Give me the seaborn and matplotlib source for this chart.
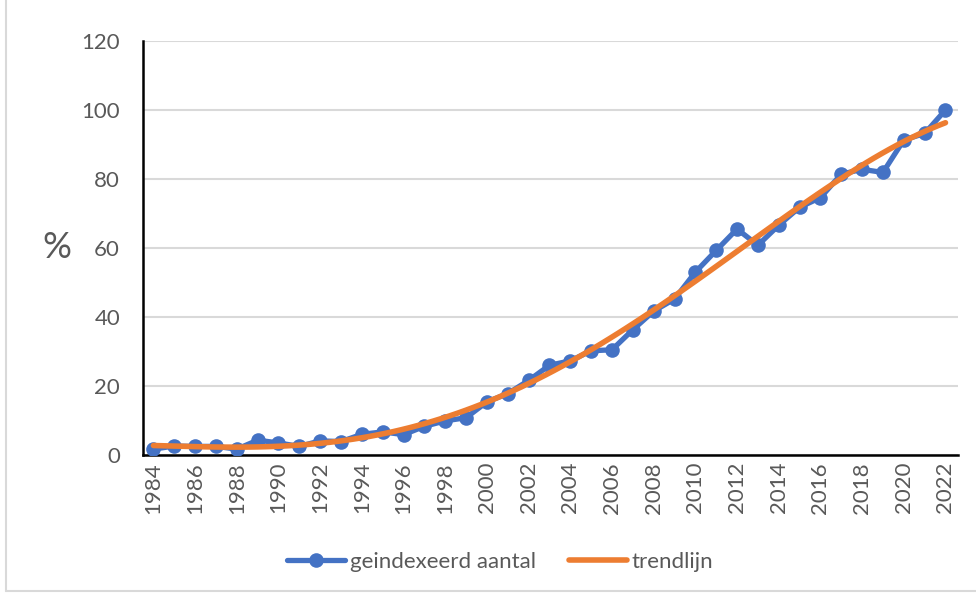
import numpy as np
import pandas as pd
import matplotlib
matplotlib.use("Agg")
import matplotlib.pyplot as plt
from matplotlib.lines import Line2D
from matplotlib.ticker import FixedLocator
import seaborn as sns

# Indexed counts per year (2022 = 100)
years = list(range(1984, 2023))
indexed = [1.7, 2.6, 2.5, 2.5, 1.7, 4.3, 3.5, 2.5, 4.1, 3.9,
           6.0, 6.7, 5.9, 8.3, 9.9, 10.8, 15.4, 17.8, 21.6, 26.0,
           27.3, 30.2, 30.5, 36.3, 41.7, 45.2, 53.0, 59.3, 65.5, 60.8,
           66.6, 71.8, 74.6, 81.4, 82.8, 81.9, 91.3, 93.2, 100.0]
label_years = list(range(1984, 2023, 2))
y_ticks = [0, 20, 40, 60, 80, 100, 120]

series_name = "geindexeerd aantal"
trend_name = "trendlijn"

df = pd.DataFrame({"jaar": years, "waarde": indexed})

sns.set_theme(style="white")
plt.rcParams["font.family"] = ["Lato", "DejaVu Sans"]

BLUE = "#4472C4"
ORANGE = "#ED7D31"
TEXT = "#595959"
GRID = "#D9D9D9"
FS = 16

fig = plt.figure(figsize=(9.76, 5.93), dpi=100)
ax = fig.add_axes([143 / 976, 1 - 455 / 593, (958 - 143) / 976, (455 - 41) / 593])

# observed series
sns.lineplot(data=df, x="jaar", y="waarde", ax=ax, color=BLUE, linewidth=3.8,
             marker="o", markersize=10.5, markeredgewidth=0, zorder=3)
# polynomial trend line fitted to the series
sns.regplot(data=df, x="jaar", y="waarde", ax=ax, order=4, ci=None, scatter=False,
            line_kws=dict(color=ORANGE, linewidth=4, zorder=4,
                          solid_capstyle="round"))

ax.set_xlim(1983.5, 2022.6)
ax.set_ylim(0, 120)
ax.yaxis.set_major_locator(FixedLocator(y_ticks))
ax.xaxis.set_major_locator(FixedLocator(label_years))
ax.set_xticklabels([str(y) for y in label_years], rotation=90)
ax.xaxis.set_minor_locator(FixedLocator(np.arange(1983.5, 2023, 1.0)))

ax.grid(axis="y", color=GRID, linewidth=1.5, zorder=0)
ax.set_axisbelow(True)
for side in ("top", "right"):
    ax.spines[side].set_visible(False)
for side in ("left", "bottom"):
    ax.spines[side].set_color("black")
    ax.spines[side].set_linewidth(1.8)

ax.tick_params(axis="y", which="both", length=0, pad=16.5, labelsize=FS, labelcolor=TEXT)
ax.tick_params(axis="x", which="major", length=0, pad=5, labelsize=FS, labelcolor=TEXT)
ax.tick_params(axis="x", which="minor", length=7, width=1.5, color="black", direction="out")

ax.set_xlabel("")
ax.set_ylabel("%", rotation=0, fontsize=26, color=TEXT, va="center", ha="center")
ax.yaxis.set_label_coords(-0.106, 0.5)

handles = [
    Line2D([], [], color=BLUE, linewidth=3.8, marker="o", markersize=10.5, markeredgewidth=0),
    Line2D([], [], color=ORANGE, linewidth=4, solid_capstyle="round"),
]
fig.legend(handles, [series_name, trend_name], loc="center",
           bbox_to_anchor=(500 / 976, 1 - 562 / 593), ncol=2, frameon=False,
           fontsize=FS, labelcolor=TEXT, handlelength=2.6, handletextpad=0.2,
           columnspacing=1.5)

# chart-area border
fig.add_artist(Line2D([6 / 976, 6 / 976], [2 / 593, 1.0], transform=fig.transFigure,
                      color=GRID, linewidth=1.5))
fig.add_artist(Line2D([6 / 976, 1.0], [2 / 593, 2 / 593], transform=fig.transFigure,
                      color=GRID, linewidth=1.5))

fig.savefig("out.png", dpi=100, facecolor="white")
